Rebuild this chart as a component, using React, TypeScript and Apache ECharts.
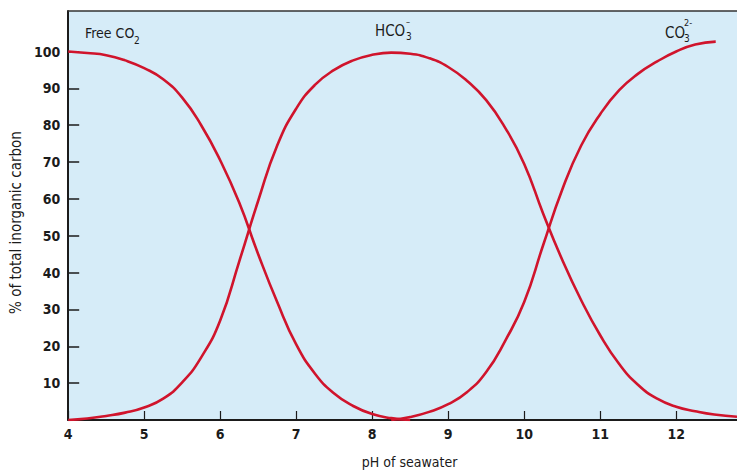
import React, { useEffect, useRef } from "react";
import * as echarts from "echarts";

// pH readings and percentage of total inorganic carbon for each species
const freeCo2Ph = [4.0, 4.25, 4.5, 4.75, 5.0, 5.25, 5.5, 5.75, 6.0, 6.25, 6.5, 6.75, 7.0, 7.25, 7.5, 7.75, 8.0, 8.25, 8.5];
const freeCo2Pct = [100, 99.6, 99, 97.6, 95.5, 92.5, 87.5, 80, 70.5, 59, 45, 32, 20.5, 12.5, 7.2, 3.8, 1.6, 0.5, 0];

const hco3Ph = [4.0, 4.25, 4.5, 4.75, 5.0, 5.25, 5.5, 5.75, 6.0, 6.25, 6.5, 6.75, 7.0, 7.25, 7.5, 7.75, 8.0, 8.25, 8.5, 8.75, 9.0, 9.25, 9.5, 9.75, 10.0, 10.25, 10.5, 10.75, 11.0, 11.25, 11.5, 11.75, 12.0, 12.25, 12.5, 12.8];
const hco3Pct = [0, 0.4, 1.1, 2, 3.4, 5.8, 10.2, 17, 27, 43, 59.5, 74.5, 84.5, 91, 95, 97.6, 99.1, 99.7, 99.4, 98.2, 95.8, 92, 86.8, 79.3, 69.5, 56, 43.5, 32.5, 23, 15.2, 9.5, 5.8, 3.6, 2.4, 1.5, 0.9];

const co3Ph = [8.25, 8.5, 8.75, 9.0, 9.25, 9.5, 9.75, 10.0, 10.25, 10.5, 10.75, 11.0, 11.25, 11.5, 11.75, 12.0, 12.25, 12.52];
const co3Pct = [0, 0.8, 2.2, 4.3, 7.6, 13, 21.5, 32, 47.5, 62.5, 74.5, 83, 89.5, 94, 97.3, 100, 101.9, 102.7];

const xTicks = [4, 5, 6, 7, 8, 9, 10, 11, 12];
const yTicks = [10, 20, 30, 40, 50, 60, 70, 80, 90, 100];

const FONT = "'Liberation Sans Narrow', 'DejaVu Sans Condensed', sans-serif";
const INK = "#1b1b1b";
const CURVE = "#d0142c";

const pairs = (xs: number[], ys: number[]) => xs.map((x, i) => [x, ys[i]]);

const curve = (name: string, data: number[][]) => ({
  name,
  type: "line",
  data,
  smooth: 0.5,
  showSymbol: false,
  lineStyle: { color: CURVE, width: 2.6 },
  z: 3,
});

const txt = (text: string, left: number, top: number, size: number) => ({
  type: "text",
  left,
  top,
  style: { text, font: `${size}px ${FONT}`, fill: INK, lineHeight: size },
});

export default function App() {
  const ref = useRef<HTMLDivElement>(null);

  useEffect(() => {
    if (!ref.current) return;
    const chart = echarts.init(ref.current, null, { renderer: "svg" });

    const tickLabel = { fontFamily: FONT, fontSize: 14, fontWeight: "bold", color: INK };

    chart.setOption({
      animation: false,
      backgroundColor: "#ffffff",
      grid: {
        left: 61,
        right: 0,
        top: 11,
        bottom: 50,
        show: true,
        backgroundColor: "#d6ecf8",
        borderWidth: 0,
      },
      xAxis: [
        {
          type: "value",
          min: 4,
          max: 12.8,
          interval: 1,
          name: "pH of seawater",
          nameLocation: "middle",
          nameGap: 35,
          nameTextStyle: { fontFamily: FONT, fontSize: 14, color: INK, padding: [0, 0, 0, 14] },
          axisLine: { show: true, lineStyle: { color: INK, width: 2 } },
          axisTick: { show: true, inside: true, length: 9, customValues: xTicks, lineStyle: { color: INK, width: 1.2 } },
          axisLabel: { ...tickLabel, margin: 7, customValues: xTicks },
          splitLine: { show: false },
        },
        {
          type: "value",
          position: "top",
          min: 4,
          max: 12.8,
          axisLine: { show: true, lineStyle: { color: "#333", width: 1.5 } },
          axisTick: { show: false },
          axisLabel: { show: false },
          splitLine: { show: false },
        },
      ],
      yAxis: {
        type: "value",
        min: 0,
        max: 111,
        interval: 10,
        name: "% of total inorganic carbon",
        nameLocation: "middle",
        nameGap: 36,
        nameTextStyle: { fontFamily: FONT, fontSize: 15, color: INK, padding: [0, 14, 0, 0] },
        axisLine: { show: true, lineStyle: { color: INK, width: 2 } },
        axisTick: { show: true, inside: true, length: 11, customValues: yTicks, lineStyle: { color: INK, width: 1.5 } },
        axisLabel: { ...tickLabel, margin: 8, customValues: yTicks },
        splitLine: { show: false },
      },
      series: [
        curve("Free CO2", pairs(freeCo2Ph, freeCo2Pct)),
        curve("HCO3-", pairs(hco3Ph, hco3Pct)),
        curve("CO3 2-", pairs(co3Ph, co3Pct)),
      ],
      graphic: [
        txt("Free CO", 85, 26, 14),
        txt("2", 134, 35, 10),
        txt("HCO", 375, 23, 15),
        txt("–", 406, 17, 9),
        txt("3", 406, 31, 10),
        txt("CO", 665, 25, 15),
        txt("2-", 684, 18, 9),
        txt("3", 684, 33, 10),
      ],
    });

    return () => chart.dispose();
  }, []);

  return (
    <div
      ref={ref}
      style={{ position: "fixed", left: 0, top: 0, width: 737, height: 474 }}
    />
  );
}
